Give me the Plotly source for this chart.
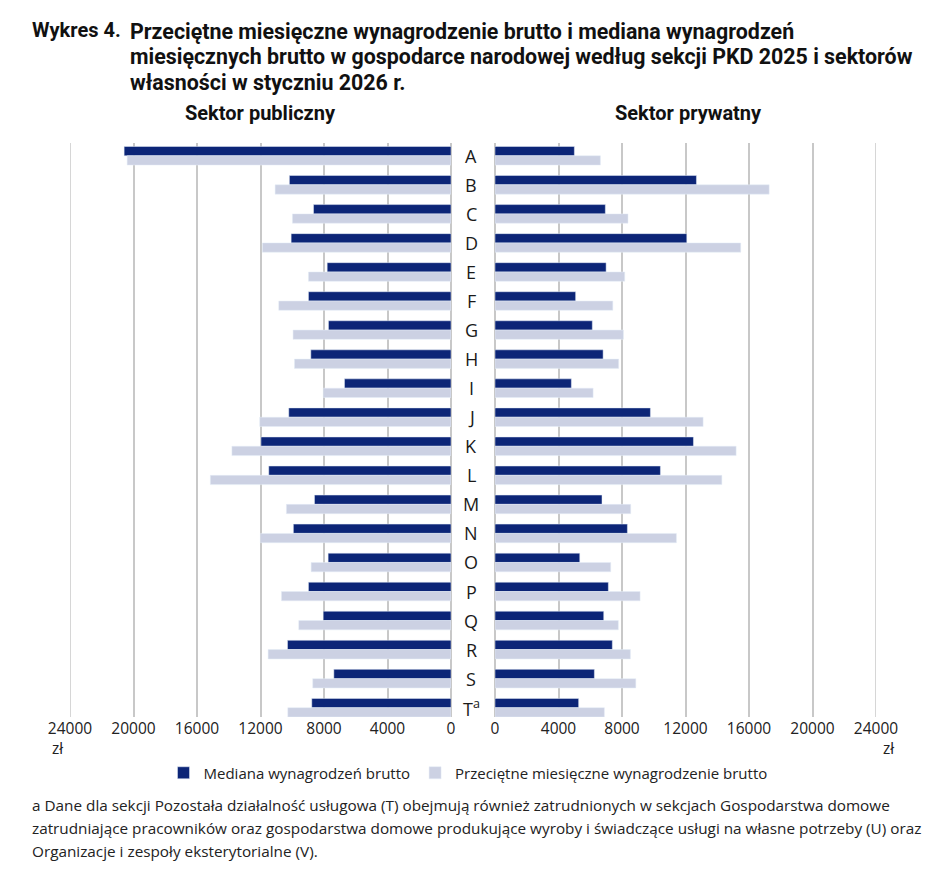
import plotly.graph_objects as go

# ---------------------------- Data ---------------------------- #

sections = ["A", "B", "C", "D", "E", "F", "G", "H", "I", "J",
            "K", "L", "M", "N", "O", "P", "Q", "R", "S", "T"]
section_labels = sections[:-1] + ["T<sup>a</sup>"]

# Sektor publiczny (zł)
public_median = [20590, 10180, 8660, 10070, 7800, 8980, 7720, 8830, 6710, 10220,
                 11970, 11480, 8600, 9930, 7740, 8980, 8050, 10300, 7380, 8770]
public_mean = [20400, 11080, 9990, 11880, 8980, 10850, 9950, 9860, 8050, 12050,
               13800, 15160, 10370, 12010, 8810, 10680, 9590, 11520, 8710, 10280]

# Sektor prywatny (zł)
private_median = [5000, 12690, 6950, 12080, 7000, 5080, 6130, 6810, 4810, 9790,
                  12500, 10420, 6740, 8340, 5340, 7140, 6850, 7390, 6260, 5270]
private_mean = [6640, 17270, 8380, 15480, 8170, 7420, 8090, 7790, 6180, 13110,
                15190, 14290, 8550, 11430, 7290, 9140, 7770, 8530, 8870, 6890]

tick_values = [0, 4000, 8000, 12000, 16000, 20000, 24000]
x_max = 24000

# ---------------------------- Styling ---------------------------- #

OFF = 8  # page body margin in the browser
W, H = 940, 863
M_L, M_R, M_T, M_B = 62, 72, 135, 154
PLOT_W = W - M_L - M_R
PLOT_H = H - M_T - M_B

DARK = "#0c2577"
LIGHT = "#ccd1e3"
GRID = "#c8c8c8"
FONT = "Open Sans, Noto Sans, sans-serif"
TITLE_FONT = "Roboto, Open Sans, sans-serif"


def px_x(x):
    """Screenshot pixel x -> paper x."""
    return (x - OFF - M_L) / PLOT_W


def px_y(y):
    """Screenshot pixel y -> paper y."""
    return (H - M_B - (y - OFF)) / PLOT_H


# ---------------------------- Figure ---------------------------- #

fig = go.Figure()

fig.add_trace(go.Bar(y=sections, x=public_median, orientation="h",
                     name="Mediana wynagrodzeń brutto", marker_color=DARK,
                     xaxis="x", yaxis="y", legendgroup="med"))
fig.add_trace(go.Bar(y=sections, x=public_mean, orientation="h",
                     name="Przeciętne miesięczne wynagrodzenie brutto", marker_color=LIGHT,
                     xaxis="x", yaxis="y", legendgroup="mean"))
fig.add_trace(go.Bar(y=sections, x=private_median, orientation="h",
                     name="Mediana wynagrodzeń brutto", marker_color=DARK,
                     xaxis="x2", yaxis="y2", legendgroup="med", showlegend=False))
fig.add_trace(go.Bar(y=sections, x=private_mean, orientation="h",
                     name="Przeciętne miesięczne wynagrodzenie brutto", marker_color=LIGHT,
                     xaxis="x2", yaxis="y2", legendgroup="mean", showlegend=False))

x_common = dict(
    tickvals=tick_values,
    tickformat="d",
    showgrid=True,
    gridcolor=GRID,
    gridwidth=1.5,
    zeroline=True,
    zerolinecolor=GRID,
    zerolinewidth=1.5,
    showline=False,
    ticks="",
    tickfont=dict(family=FONT, size=15.5, color="#222222"),
    fixedrange=True,
)
y_common = dict(
    type="category",
    categoryorder="array",
    categoryarray=sections,
    range=[19.32, -0.44],
    showticklabels=False,
    showgrid=False,
    zeroline=False,
    ticks="",
    fixedrange=True,
)

fig.update_layout(
    width=W,
    height=H,
    margin=dict(l=M_L, r=M_R, t=M_T, b=M_B),
    paper_bgcolor="white",
    plot_bgcolor="white",
    barmode="group",
    bargap=0.36,
    bargroupgap=0,
    font=dict(family=FONT, color="#222222"),
    xaxis=dict(domain=[0, px_x(451)], range=[x_max, 0], anchor="y", **x_common),
    xaxis2=dict(domain=[px_x(495), 1], range=[0, x_max], anchor="y2", **x_common),
    yaxis=dict(anchor="x", **y_common),
    yaxis2=dict(anchor="x2", **y_common),
    legend=dict(
        orientation="h",
        x=px_x(468), xanchor="center",
        y=px_y(773), yanchor="middle",
        font=dict(family=FONT, size=15, color="#222222"),
        itemwidth=30,
        traceorder="normal",
    ),
    showlegend=True,
)

# Outer gridlines at the ends of both value axes
for xref in ["x", "x2"]:
    fig.add_shape(type="line", xref=xref, yref="paper", x0=x_max, x1=x_max, y0=0, y1=1,
                  line=dict(color=GRID, width=1.5), layer="below")

annotations = []

# Title
annotations.append(dict(text="<b>Wykres 4.</b>", x=px_x(30), y=px_y(30),
                        xanchor="left", yanchor="middle",
                        font=dict(family=TITLE_FONT, size=20, color="#111111")))
title_lines = [
    "Przeciętne miesięczne wynagrodzenie brutto i mediana wynagrodzeń",
    "miesięcznych brutto w gospodarce narodowej według sekcji PKD 2025 i sektorów",
    "własności w styczniu 2026 r.",
]
for i, line in enumerate(title_lines):
    annotations.append(dict(text=f"<b>{line}</b>", x=px_x(128), y=px_y(31 + 26 * i),
                            xanchor="left", yanchor="middle",
                            font=dict(family=TITLE_FONT, size=21.4, color="#111111")))
for a in annotations:
    a.update(xref="paper", yref="paper", showarrow=False)

# Panel titles
for text, cx in [("Sektor publiczny", 260), ("Sektor prywatny", 688)]:
    annotations.append(dict(text=f"<b>{text}</b>", x=px_x(cx), y=px_y(113),
                            xref="paper", yref="paper", showarrow=False,
                            xanchor="center", yanchor="middle",
                            font=dict(family=TITLE_FONT, size=20, color="#111111")))

# Section letters between the panels
for cat, label in zip(sections, section_labels):
    annotations.append(dict(text=label, x=px_x(471), y=cat, xref="paper", yref="y",
                            showarrow=False, xanchor="center", yanchor="middle",
                            font=dict(family=FONT, size=18, color="#1a1a1a")))

# Currency unit under the axes
annotations.append(dict(text="zł", x=px_x(50), y=px_y(748), xref="paper", yref="paper",
                        showarrow=False, xanchor="left", yanchor="middle",
                        font=dict(family=FONT, size=15.5, color="#222222")))
annotations.append(dict(text="zł", x=px_x(897), y=px_y(748), xref="paper", yref="paper",
                        showarrow=False, xanchor="right", yanchor="middle",
                        font=dict(family=FONT, size=15.5, color="#222222")))

# Footnote
footnote = [
    "a Dane dla sekcji Pozostała działalność usługowa (T) obejmują również zatrudnionych w sekcjach Gospodarstwa domowe",
    "zatrudniające pracowników oraz gospodarstwa domowe produkujące wyroby i świadczące usługi na własne potrzeby (U) oraz",
    "Organizacje i zespoły eksterytorialne (V).",
]
for i, line in enumerate(footnote):
    annotations.append(dict(text=line, x=px_x(30), y=px_y(805 + 23 * i),
                            xref="paper", yref="paper", showarrow=False,
                            xanchor="left", yanchor="middle",
                            font=dict(family=FONT, size=15.3, color="#222222")))

fig.update_layout(annotations=annotations)

fig.write_html("out.html")
